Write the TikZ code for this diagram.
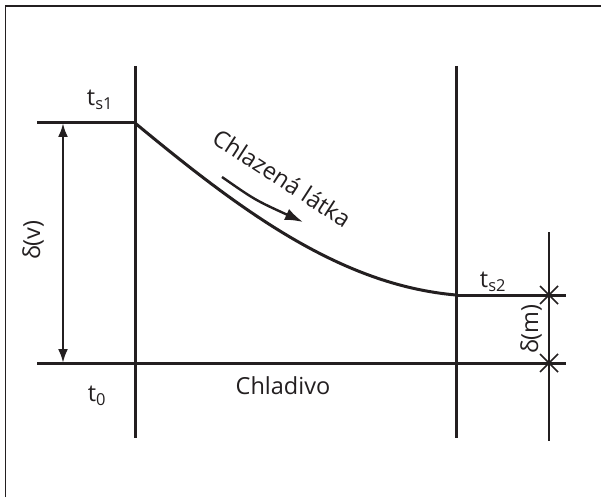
\documentclass[tikz,border=0pt]{standalone}
\usepackage{fontspec}
\setmainfont{Open Sans}
\usepackage{xcolor}
\usetikzlibrary{arrows.meta,positioning,calc}
\definecolor{HXInk}{HTML}{231F20}
\tikzset{
 hxline/.style={draw=HXInk,line width=3pt},
 hxtext/.style={text=HXInk,inner sep=1pt,font=\fontsize{23.5}{28}\selectfont},
 hxcross/.style={draw=HXInk,line width=1.6pt},
}

\begin{document}
\begin{tikzpicture}[x=1pt,y=-1pt,>=Latex]
\useasboundingbox (0,0) rectangle (601,497);
\draw[draw=HXInk,line width=1.3pt] (5.5,497) -- (5.5,6) -- (601,6);
% walls and levels
\coordinate (wlt) at (135,66);
\coordinate (wlb) at (135,438);
\coordinate (wrt) at (456,66);
\coordinate (wrb) at (456,438);
\coordinate (s1a) at (37,123);
\coordinate (s1b) at (135,123);
\coordinate (s2a) at (456,295);
\coordinate (s2b) at (566,295);
\coordinate (t0a) at (37,363);
\coordinate (t0b) at (566,363);
\coordinate (dmt) at (549,232);
\coordinate (dmb) at (549,441);
\coordinate (xs2) at (549,295);
\coordinate (xt0) at (549,363);
\coordinate (dvt) at (63,123);
\coordinate (dvb) at (63,363);
\draw[hxline] (wlt) -- (wlb);
\draw[hxline] (wrt) -- (wrb);
\draw[hxline] (s1a) -- (s1b);
\draw[hxline] (s2a) -- (s2b);
\draw[hxline] (t0a) -- (t0b);
\draw[hxline,line width=2.6pt] (dmt) -- (dmb);
\draw[hxline,line width=2.6pt,{Latex[length=14pt,width=10pt]}-{Latex[length=14pt,width=10pt]}] (dvt) -- (dvb);
\foreach \p in {xs2,xt0}{
 \draw[hxcross] ($(\p)+(-9,-9)$) -- ($(\p)+(9,9)$);
 \draw[hxcross] ($(\p)+(-9,9)$) -- ($(\p)+(9,-9)$);
}
% temperature profile
\draw[hxline] (s1b) .. controls (240,210) and (340,285) .. (s2a);
\coordinate (fa) at (222,177);
\coordinate (fb) at (303,222);
\draw[hxline,line width=2.4pt,-{Latex[length=18pt,width=12pt]}] (fa) .. controls (255,200) .. (fb);
% labels
\node[hxtext] (ts1) at (100,100) {t\textsubscript{s1}};
\node[hxtext] (ts2) at (493,282) {t\textsubscript{s2}};
\node[hxtext] (t0) at (97,396) {t\textsubscript{0}};
\node[hxtext] (chladivo) at (283,386) {Chladivo};
\node[hxtext,rotate=-33] (chlazena) at (282,178) {Chlazená látka};
\node[hxtext,rotate=90] (dv) at (33,240) {δ(v)};
\node[hxtext,rotate=90] (dm) at (531,329) {δ(m)};
\end{tikzpicture}
\end{document}
